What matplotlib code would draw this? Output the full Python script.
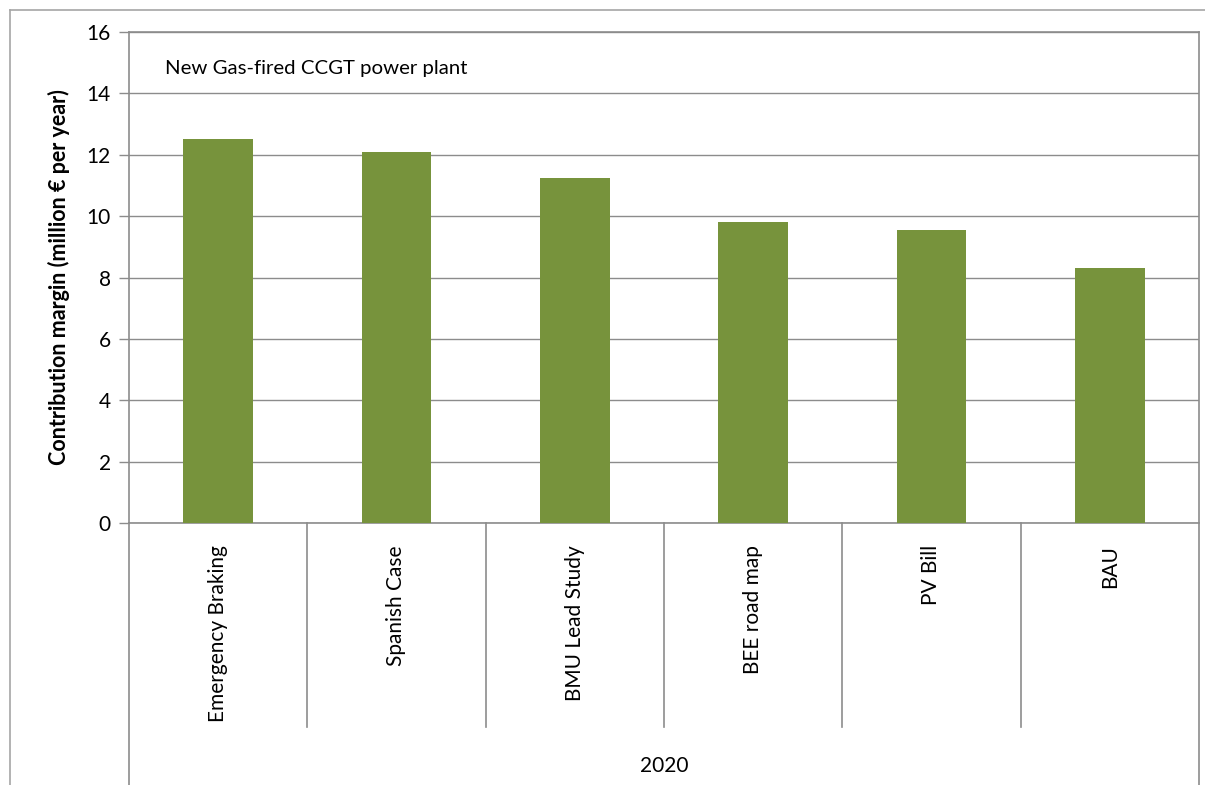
import matplotlib.pyplot as plt
from matplotlib.lines import Line2D
import numpy as np

plt.rcParams['font.family'] = ['Lato', 'DejaVu Sans']

# data
scenarios = ['Emergency Braking', 'Spanish Case', 'BMU Lead Study',
             'BEE road map', 'PV Bill', 'BAU']
margin = [12.5, 12.1, 11.25, 9.8, 9.55, 8.3]
group_label = '2020'

W, H = 1205, 785
fig = plt.figure(figsize=(W / 100, H / 100), dpi=100)
L, R, T, B = 129, 1199, 32, 523
ax = fig.add_axes([L / W, 1 - B / H, (R - L) / W, (B - T) / H])

grey = '#8c8c8c'
x = np.arange(len(scenarios))
ax.bar(x, margin, width=0.39, color='#77933c', zorder=3)
ax.set_xlim(-0.5, len(scenarios) - 0.5)
ax.set_ylim(0, 16)
ax.set_yticks(range(0, 17, 2))
ax.yaxis.grid(True, color=grey, linewidth=1)
ax.set_axisbelow(True)
ax.tick_params(axis='y', length=7, width=1, color=grey, labelsize=15, pad=6)
ax.set_xticks([])
for s in ['top', 'right']:
    ax.spines[s].set_visible(False)
for s in ['left', 'bottom']:
    ax.spines[s].set_color(grey)
    ax.spines[s].set_linewidth(1.2)

ax.set_ylabel('Contribution margin (million € per year)', fontsize=15.5,
              fontweight='bold', labelpad=12)

ax.text(0.034, 0.926, 'New Gas-fired CCGT power plant', transform=ax.transAxes,
        fontsize=14.7, va='center', ha='left')

# category labels (rotated)
for i, name in enumerate(scenarios):
    ax.annotate(name, xy=(i, 0), xycoords='data', xytext=(0, -22),
                textcoords='offset pixels', rotation=90, ha='center', va='top',
                fontsize=15, annotation_clip=False)

# multi-level axis lines, in figure pixels
def fy(p):
    return 1 - p / H

def fx(p):
    return p / W

step = (R - L) / len(scenarios)
for k in range(1, len(scenarios)):
    xs = L + k * step
    fig.add_artist(Line2D([fx(xs), fx(xs)], [fy(B), fy(727)], color=grey, lw=1.2))
fig.add_artist(Line2D([fx(L), fx(L)], [fy(B), fy(H)], color=grey, lw=1.2))
fig.add_artist(Line2D([fx(R), fx(R)], [fy(T), fy(H)], color=grey, lw=1.2))
fig.add_artist(Line2D([fx(L), fx(R)], [fy(T), fy(T)], color=grey, lw=1.2))
fig.text(fx((L + R) / 2), fy(766), group_label, ha='center', va='center', fontsize=15)

# outer chart border
fig.add_artist(Line2D([fx(10), fx(10)], [fy(10), fy(H)], color='#a6a6a6', lw=1.2))
fig.add_artist(Line2D([fx(10), fx(W)], [fy(10), fy(10)], color='#a6a6a6', lw=1.2))

fig.savefig('out.png', dpi=100)
